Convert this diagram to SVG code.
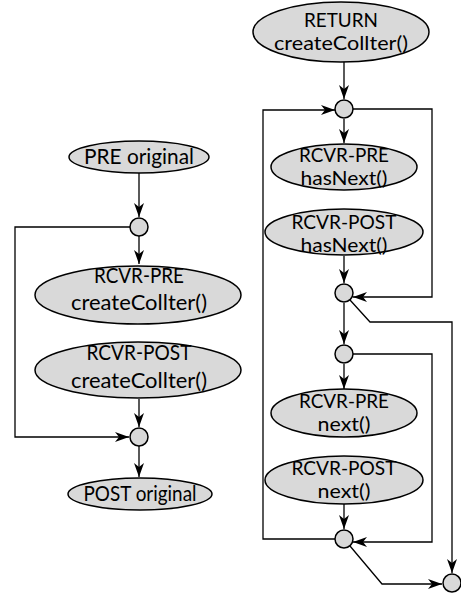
<svg xmlns="http://www.w3.org/2000/svg" width="461" height="593" viewBox="0 0 461 593">
<defs>
<marker id="ah" viewBox="0 0 14 10" refX="14" refY="5" markerWidth="14" markerHeight="10" markerUnits="userSpaceOnUse" orient="auto">
<path d="M0,0 L14,5 L0,10 L4,5 Z" fill="#000"/>
</marker>
<style>
.n ellipse{fill:#d9d9d9;stroke:#000;stroke-width:1.5}
.j{fill:#d9d9d9;stroke:#000;stroke-width:1.5}
text{font-family:Lato,"Liberation Sans",sans-serif;font-size:21px;fill:#000;text-anchor:middle}
.s{font-size:19px}
.e path{fill:none;stroke:#000;stroke-width:1.3}
.a{marker-end:url(#ah)}
</style>
</defs>
<rect width="461" height="593" fill="#fff"/>
<g class="e" id="connectors">
<path class="a" d="M139,172 V217"/>
<path class="a" d="M139,236 V264"/>
<path class="a" d="M139,399 V427"/>
<path class="a" d="M139,446 V477"/>
<path class="a" d="M130,227 H15 V437 H129"/>
<path class="a" d="M344,62 V99"/>
<path class="a" d="M344,119 V143"/>
<path class="a" d="M344,256 V283"/>
<path class="a" d="M344,303 V344"/>
<path class="a" d="M344,364 V389"/>
<path class="a" d="M344,503 V529"/>
<path class="a" d="M353,109 H432 V297 H353"/>
<path class="a" d="M350,300 L370,322 H452 V573"/>
<path class="a" d="M353,354 H432 V542 H353"/>
<path class="a" d="M335,539 H263 V110 H335"/>
<path class="a" d="M350,546 L382,584 H442"/>
</g>
<g id="pre-original" class="n"><ellipse cx="139" cy="157" rx="70" ry="16"/><text x="139" y="164" textLength="110" lengthAdjust="spacingAndGlyphs">PRE original</text></g>
<g id="j1"><circle class="j" cx="139" cy="227" r="9"/></g>
<g id="rcvr-pre-create" class="n"><ellipse cx="138" cy="295" rx="103" ry="29"/><text x="139" y="283" textLength="90" lengthAdjust="spacingAndGlyphs">RCVR-PRE</text><text x="139" y="310" textLength="136" lengthAdjust="spacingAndGlyphs">createCollter()</text></g>
<g id="rcvr-post-create" class="n"><ellipse cx="138" cy="370" rx="103" ry="28"/><text x="139" y="360" textLength="105" lengthAdjust="spacingAndGlyphs">RCVR-POST</text><text x="139" y="388" textLength="136" lengthAdjust="spacingAndGlyphs">createCollter()</text></g>
<g id="j2"><circle class="j" cx="139" cy="437" r="9"/></g>
<g id="post-original" class="n"><ellipse cx="140" cy="494" rx="72" ry="16"/><text x="140" y="501" textLength="113" lengthAdjust="spacingAndGlyphs">POST original</text></g>
<g id="return-create" class="n"><ellipse cx="341" cy="32" rx="88" ry="30"/><text class="s" x="341" y="27" textLength="74" lengthAdjust="spacingAndGlyphs">RETURN</text><text class="s" x="341" y="50" textLength="134" lengthAdjust="spacingAndGlyphs">createCollter()</text></g>
<g id="j3"><circle class="j" cx="344" cy="109" r="9"/></g>
<g id="rcvr-pre-hasnext" class="n"><ellipse cx="344" cy="167" rx="73" ry="23"/><text class="s" x="344" y="162" textLength="90" lengthAdjust="spacingAndGlyphs">RCVR-PRE</text><text class="s" x="344" y="185" textLength="87" lengthAdjust="spacingAndGlyphs">hasNext()</text></g>
<g id="rcvr-post-hasnext" class="n"><ellipse cx="344" cy="232" rx="79" ry="23"/><text class="s" x="344" y="229" textLength="105" lengthAdjust="spacingAndGlyphs">RCVR-POST</text><text class="s" x="344" y="252" textLength="87" lengthAdjust="spacingAndGlyphs">hasNext()</text></g>
<g id="j4"><circle class="j" cx="344" cy="293" r="9"/></g>
<g id="j5"><circle class="j" cx="344" cy="354" r="9"/></g>
<g id="rcvr-pre-next" class="n"><ellipse cx="344" cy="413" rx="73" ry="24"/><text class="s" x="344" y="408" textLength="90" lengthAdjust="spacingAndGlyphs">RCVR-PRE</text><text class="s" x="344" y="431" textLength="53" lengthAdjust="spacingAndGlyphs">next()</text></g>
<g id="rcvr-post-next" class="n"><ellipse cx="344" cy="480" rx="79" ry="24"/><text class="s" x="344" y="475" textLength="105" lengthAdjust="spacingAndGlyphs">RCVR-POST</text><text class="s" x="344" y="498" textLength="53" lengthAdjust="spacingAndGlyphs">next()</text></g>
<g id="j6"><circle class="j" cx="344" cy="539" r="9"/></g>
<g id="j7"><circle class="j" cx="452" cy="583" r="9"/></g>
</svg>
